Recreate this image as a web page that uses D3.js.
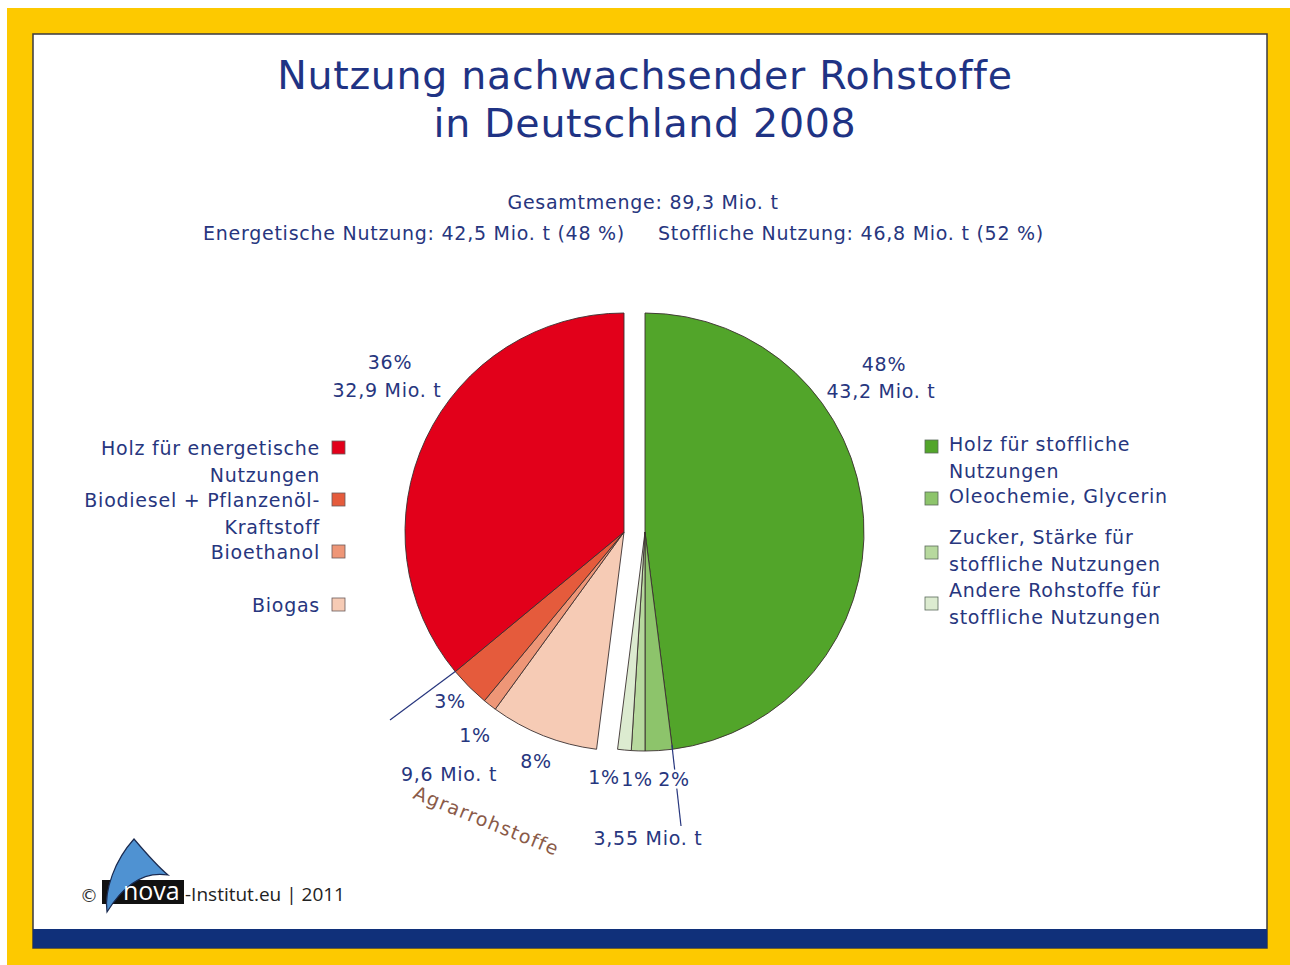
<!DOCTYPE html>
<html><head><meta charset="utf-8">
<script src="https://cdn.jsdelivr.net/npm/d3@7"></script>
<style>html,body{margin:0;padding:0;background:#fff;}svg{display:block;}</style>
</head><body>
<script>
// ---- data ----
const categories = ["Holz für stoffliche Nutzungen","Oleochemie, Glycerin","Zucker, Stärke für stoffliche Nutzungen","Andere Rohstoffe für stoffliche Nutzungen","Biogas","Bioethanol","Biodiesel + Pflanzenöl-Kraftstoff","Holz für energetische Nutzungen"];
const shares = [48, 2, 1, 1, 8, 1, 3, 36];           // percent of 89,3 Mio. t
const groups = ["stofflich","stofflich","stofflich","stofflich","energetisch","energetisch","energetisch","energetisch"];
const colors = ["#52a52a","#8dc46b","#b7d99e","#dcebd0","#f6cbb5","#ee9677","#e55b3c","#e2001a"];
const pctLabels = ["48%","2%","1%","1%","8%","1%","3%","36%"];
const leftLegend = [["Holz für energetische","Nutzungen"],["Biodiesel + Pflanzenöl-","Kraftstoff"],["Bioethanol"],["Biogas"]];
const leftLegendIdx = [7,6,5,4];
const rightLegend = [["Holz für stoffliche","Nutzungen"],["Oleochemie, Glycerin"],["Zucker, Stärke für","stoffliche Nutzungen"],["Andere Rohstoffe für","stoffliche Nutzungen"]];
const rightLegendIdx = [0,1,2,3];
const titleLines = ["Nutzung nachwachsender Rohstoffe","in Deutschland 2008"];
const totalText = "Gesamtmenge: 89,3 Mio. t";
const energText = "Energetische Nutzung: 42,5 Mio. t (48 %)";
const stoffText = "Stoffliche Nutzung: 46,8 Mio. t (52 %)";
const amountLabels = {holzEnerg:"32,9 Mio. t", holzStoff:"43,2 Mio. t", agrar:"9,6 Mio. t", stoffRest:"3,55 Mio. t"};

// ---- layout ----
const W=1290,H=965;
const navy="#27367e";
const FONT="'DejaVu Sans', 'Open Sans', sans-serif";
const FS=19, LS=0.75;
const svg=d3.select("body").append("svg").attr("width",W).attr("height",H).style("font-family",FONT);

svg.append("rect").attr("x",7).attr("y",8).attr("width",W-7).attr("height",H-8).attr("fill","#fdc900");
svg.append("rect").attr("x",33).attr("y",34).attr("width",1234).attr("height",914).attr("fill","#fff").attr("stroke","#3a3a40").attr("stroke-width",1.5);
svg.append("rect").attr("x",33).attr("y",929).attr("width",1234).attr("height",19).attr("fill","#10307a");

// title
svg.append("g").selectAll("text").data(titleLines).join("text")
  .attr("x",645).attr("y",(d,i)=>89+i*48).attr("text-anchor","middle")
  .attr("font-size",39.5).attr("letter-spacing",0.7).attr("fill","#1f3384").text(d=>d);

function txt(x,y,s,opt={}){
  const t=svg.append("text").attr("x",x).attr("y",y).attr("text-anchor",opt.anchor||"middle")
    .attr("font-size",opt.size||FS).attr("letter-spacing",opt.ls!=null?opt.ls:LS).attr("fill",opt.fill||navy).text(s);
  if(opt.halo) t.attr("stroke","#fff").attr("stroke-width",5).attr("paint-order","stroke");
  return t;
}
txt(643,209,totalText);
txt(625,240,energText,{anchor:"end"});
txt(658,240,stoffText,{anchor:"start"});

// pie
const R=219;
const centers={stofflich:[645,532], energetisch:[624,532]};
const pie=d3.pie().sort(null).value(d=>d)(shares);
const arc=d3.arc().innerRadius(0).outerRadius(R);
svg.append("g").selectAll("path").data(pie).join("path")
  .attr("transform",(d,i)=>`translate(${centers[groups[i]]})`)
  .attr("d",arc).attr("fill",(d,i)=>colors[i])
  .attr("stroke","#3b3030").attr("stroke-width",0.9).attr("stroke-linejoin","round");

// leader lines
const a1=pie[6].endAngle, c1=centers.energetisch;
svg.append("line").attr("x1",390).attr("y1",720).attr("x2",c1[0]+R*Math.sin(a1)).attr("y2",c1[1]-R*Math.cos(a1)).attr("stroke",navy).attr("stroke-width",1.2);
const a2=pie[0].endAngle, c2=centers.stofflich;
svg.append("line").attr("x1",c2[0]+(R-4)*Math.sin(a2)).attr("y1",c2[1]-(R-4)*Math.cos(a2)).attr("x2",681).attr("y2",826).attr("stroke",navy).attr("stroke-width",1.2);

// big labels
txt(390,369,pctLabels[7]); txt(387,397,amountLabels.holzEnerg);
txt(884,371,pctLabels[0]); txt(881,398,amountLabels.holzStoff);
// small labels
txt(450,708,pctLabels[6]); txt(475,742,pctLabels[5]); txt(536,768,pctLabels[4]);
txt(449,781,amountLabels.agrar);
txt(604,784,pctLabels[3]); txt(637,786,pctLabels[2]); txt(674,786,pctLabels[1],{halo:true});
txt(648,845,amountLabels.stoffRest);
svg.append("text").attr("transform","translate(412,798) rotate(22)").attr("font-size",FS).attr("letter-spacing",1.3).attr("fill","#8a5a48").text("Agrarrohstoffe");

// legends
const lg=svg.append("g");
const leftY=[455,507,559,612];
leftLegend.forEach((lines,k)=>{
  lines.forEach((l,j)=>txt(320,leftY[k]+j*27,l,{anchor:"end"}));
  lg.append("rect").attr("x",332).attr("y",leftY[k]-14).attr("width",13).attr("height",13)
    .attr("fill",colors[leftLegendIdx[k]]).attr("stroke","#6a5a5a").attr("stroke-width",0.8);
});
const rightY=[451,503,544,597];
const rightSq=[440,492,546,597];
rightLegend.forEach((lines,k)=>{
  lines.forEach((l,j)=>txt(949,rightY[k]+j*27,l,{anchor:"start"}));
  lg.append("rect").attr("x",925).attr("y",rightSq[k]).attr("width",13).attr("height",13)
    .attr("fill",colors[rightLegendIdx[k]]).attr("stroke","#5a6a5a").attr("stroke-width",0.8);
});

// logo
const logo=svg.append("g");
logo.append("text").attr("x",80).attr("y",902).attr("font-size",18).attr("fill","#333").text("©");
logo.append("rect").attr("x",102).attr("y",880).attr("width",82).attr("height",24).attr("fill","#111");
logo.append("path").attr("d","M107,912 C104,890 115,860 134,839 C145,852 156,865 168,875 C150,872 128,878 107,912 Z")
  .attr("fill","#4f92d2").attr("stroke","#1a2a50").attr("stroke-width",1.2);
logo.append("text").attr("x",123).attr("y",900).attr("font-size",25).attr("fill","#fff").attr("font-family","'Open Sans', sans-serif").text("nova");
logo.append("text").attr("x",185).attr("y",901).attr("font-size",19).attr("fill","#222").attr("font-family","'Open Sans', sans-serif").text("-Institut.eu | 2011");
</script>
</body></html>
